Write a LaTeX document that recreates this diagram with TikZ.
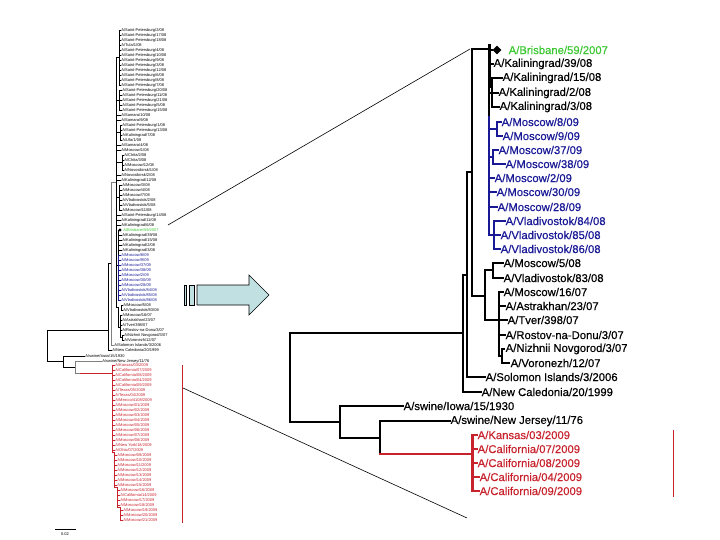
\documentclass[tikz,border=0pt]{standalone}
\usepackage{fontspec}
\setmainfont{Liberation Sans}
\newfontfamily\strainfont[FakeBold=0.4]{Liberation Sans}
\usetikzlibrary{shapes.geometric}

\definecolor{brisgreen}{RGB}{60,200,50}
\definecolor{mosblue}{RGB}{25,25,150}
\definecolor{swred}{RGB}{200,35,45}
\definecolor{arrowfill}{RGB}{192,224,226}

\tikzset{
  strain/.style={anchor=west, inner sep=0.5pt, font=\strainfont\fontsize{11.3}{11.3}\selectfont},
  minis/.style={anchor=west, inner sep=0.2pt, font=\fontsize{4}{4}\selectfont},
  branch/.style={line width=1.6pt, line cap=rect},
  minib/.style={line width=0.5pt},
}

\begin{document}
\begin{tikzpicture}[x=1pt,y=-1pt]
\useasboundingbox (0,0) rectangle (720,540);

%% big tree, right
\node[diamond, fill=black, inner sep=0pt, minimum size=9pt] (bdia) at (497,50) {};
\node[strain, brisgreen] (bris) at (508,50) {A/Brisbane/59/2007};
\node[strain] (k39) at (493,64) {A/Kaliningrad/39/08};
\node[strain] (k15) at (502,78) {A/Kaliningrad/15/08};
\node[strain] (k2) at (498,93) {A/Kaliningrad/2/08};
\node[strain] (k3) at (499,107) {A/Kaliningrad/3/08};
\node[strain, mosblue] (m8) at (501,122) {A/Moscow/8/09};
\node[strain, mosblue] (m9) at (502,136) {A/Moscow/9/09};
\node[strain, mosblue] (m37) at (498,150) {A/Moscow/37/09};
\node[strain, mosblue] (m38) at (505,164) {A/Moscow/38/09};
\node[strain, mosblue] (m2) at (494,178) {A/Moscow/2/09};
\node[strain, mosblue] (m30) at (496,192) {A/Moscow/30/09};
\node[strain, mosblue] (m28) at (497,207) {A/Moscow/28/09};
\node[strain, mosblue] (v84) at (505,221) {A/Vladivostok/84/08};
\node[strain, mosblue] (v85) at (500,235) {A/Vladivostok/85/08};
\node[strain, mosblue] (v86) at (500,249) {A/Vladivostok/86/08};
\node[strain] (m5) at (503,263) {A/Moscow/5/08};
\node[strain] (v83) at (503,278) {A/Vladivostok/83/08};
\node[strain] (m16) at (503,292) {A/Moscow/16/07};
\node[strain] (astr) at (505,306) {A/Astrakhan/23/07};
\node[strain] (tver) at (507,320) {A/Tver/398/07};
\node[strain] (rost) at (505,335) {A/Rostov-na-Donu/3/07};
\node[strain] (nizh) at (505,349) {A/Nizhnii Novgorod/3/07};
\node[strain] (voro) at (510,363) {A/Voronezh/12/07};
\node[strain] (solo) at (485,377) {A/Solomon Islands/3/2006};
\node[strain] (newc) at (481,392) {A/New Caledonia/20/1999};
\node[strain] (iowa) at (403,406) {A/swine/Iowa/15/1930};
\node[strain] (njer) at (450,421) {A/swine/New Jersey/11/76};
\node[strain, swred] (kans) at (477,435) {A/Kansas/03/2009};
\node[strain, swred] (cal7) at (477,449) {A/California/07/2009};
\node[strain, swred] (cal8) at (477,463) {A/California/08/2009};
\node[strain, swred] (cal4) at (479,477) {A/California/04/2009};
\node[strain, swred] (cal9) at (479,491) {A/California/09/2009};

\coordinate (nRoot) at (290,378);
\coordinate (nSea) at (463,333);
\coordinate (nSw) at (340,422);
\coordinate (nA) at (467,275);
\coordinate (nB) at (472,172);
\coordinate (nBris) at (489,49);
\coordinate (nC) at (485,296);
\coordinate (nD) at (493,270);
\coordinate (nE) at (499,320);
\coordinate (nF) at (502,356);
\coordinate (nNJ) at (380,438);
\coordinate (nCal) at (472,454);

\draw[branch] (nSea) -| (nRoot) |- (nSw);
\draw[branch] (nA) -| (nSea) |- (newc.west);
\draw[branch] (nB) -| (nA) |- (solo.west);
\draw[branch] (nBris) -| (nB) |- (nC);
\draw[branch] (nD) -| (nC) |- (nE);
\draw[branch] (m5.west) -| (nD) |- (v83.west);
\draw[branch] (nE |- m16.west) -- (nE |- nF) -- (nF);
\foreach \n in {m16,astr,tver,rost}
  \draw[branch] (nE |- \n.west) -- (\n.west);
\draw[line width=2.4pt] (nizh.west) -| (nF) |- (voro.west);

% Brisbane clade
\coordinate (bTop) at (489,44);
\coordinate (bKnee) at (489,88);
\coordinate (bLow) at (489,116);
\coordinate (nK) at (492,93);
\coordinate (nBl) at (489,180);
\coordinate (nM89) at (497,129);
\coordinate (nM37) at (493,157);
\coordinate (nV) at (494,235);
\draw[line width=3pt] (bTop) -- (bKnee);
\draw[branch] (bKnee) -- (bLow);
\draw[branch] (nBris |- bdia) -- (bdia);
\draw[branch] (nBris |- k39.west) -- (k39.west);
\draw[branch] (nBris |- nK) -- (nK);
\draw[branch] (k15.west) -| (nK) |- (k3.west);
\draw[branch] (nK |- k2.west) -- (k2.west);
\draw[line width=2.4pt, mosblue] (bLow) -- (nBl |- nV);
\draw[branch, mosblue] (nBl |- nM89) -- (nM89);
\draw[branch, mosblue] (m8.west) -| (nM89) |- (m9.west);
\draw[branch, mosblue] (nBl |- nM37) -- (nM37);
\draw[branch, mosblue] (m37.west) -| (nM37) |- (m38.west);
\foreach \n in {m2,m30,m28}
  \draw[branch, mosblue] (nBl |- \n.west) -- (\n.west);
\draw[branch, mosblue] (nBl |- nV) -- (nV);
\draw[line width=2.6pt, mosblue] (nV |- v84.west) -- (nV |- v86.west);
\foreach \n in {v84,v85,v86}
  \draw[branch, mosblue] (nV |- \n.west) -- (\n.west);

% swine part
\draw[branch] (iowa.west) -| (nSw) |- (nNJ);
\draw[branch] (njer.west) -| (nNJ) -- (nNJ |- nCal);
\draw[branch, swred] (nNJ |- nCal) -- (nCal);
\draw[line width=3pt, swred] (nCal |- kans.west) -- (nCal |- cal9.west);
\foreach \n in {kans,cal7,cal8,cal4,cal9}
  \draw[branch, swred] (nCal |- \n.west) -- (\n.west);
\coordinate (redTop) at (673,430);
\coordinate (redBot) at (673,497);
\draw[swred, line width=1pt] (redTop) -- (redBot);

%% small tree, left
\foreach \lname [count=\k] in {A/Saint-Petersburg/2/08, A/Saint-Petersburg/17/08,
  A/Saint-Petersburg/18/08, A/Tula/1/08, A/Saint-Petersburg/4/08,
  A/Saint-Petersburg/10/08, A/Saint-Petersburg/9/08, A/Saint-Petersburg/3/08,
  A/Saint-Petersburg/12/08, A/Saint-Petersburg/6/08, A/Saint-Petersburg/8/08,
  A/Saint-Petersburg/7/08}{
  \node[minis] (la\k) at (121,25+5*\k) {\lname};
  \draw[minib] (119,25+5*\k) -- (la\k.west);
}
\foreach \lname [count=\k] in {A/Saint-Petersburg/20/08, A/Saint-Petersburg/11/08,
  A/Saint-Petersburg/21/08, A/Saint-Petersburg/5/08, A/Saint-Petersburg/15/08}{
  \node[minis] (lb\k) at (122,85+5*\k) {\lname};
  \draw[minib] (119,85+5*\k) -- (lb\k.west);
}
\foreach \lname [count=\k] in {A/Samara/10/08, A/Samara/9/08}{
  \node[minis] (lc\k) at (121,110+5*\k) {\lname};
  \draw[minib] (116,110+5*\k) -- (lc\k.west);
}
\foreach \lname [count=\k] in {A/Saint-Petersburg/1/08, A/Saint-Petersburg/13/08,
  A/Kaliningrad/7/08, A/Ufa/1/08}{
  \node[minis] (ld\k) at (122,120+5*\k) {\lname};
  \draw[minib] (120,120+5*\k) -- (ld\k.west);
}
\foreach \lname [count=\k] in {A/Samara/4/08, A/Moscow/1/08}{
  \node[minis] (le\k) at (121,140+5*\k) {\lname};
  \draw[minib] (116,140+5*\k) -- (le\k.west);
}
\foreach \lname [count=\k] in {A/Chita/2/08, A/Chita/3/08, A/Moscow/12/08,
  A/Novosibirsk/1/08}{
  \node[minis] (lf\k) at (124,150+5*\k) {\lname};
  \draw[minib] (122,150+5*\k) -- (lf\k.west);
}
\foreach \lname [count=\k] in {A/Novosibirsk/2/08, A/Kaliningrad/12/08}{
  \node[minis] (lg\k) at (121,170+5*\k) {\lname};
  \draw[minib] (116,170+5*\k) -- (lg\k.west);
}
\foreach \lname [count=\k] in {A/Moscow/3/08, A/Moscow/4/08, A/Moscow/7/08,
  A/Vladivostok/2/08, A/Vladivostok/5/08, A/Moscow/11/08}{
  \node[minis] (lh\k) at (122,180+5*\k) {\lname};
  \draw[minib] (119,180+5*\k) -- (lh\k.west);
}
\foreach \lname [count=\k] in {A/Saint-Petersburg/14/08, A/Kaliningrad/11/08,
  A/Kaliningrad/6/08}{
  \node[minis] (li\k) at (121,210+5*\k) {\lname};
  \draw[minib] (116,210+5*\k) -- (li\k.west);
}
\draw[minib] (119,30) -- (119,85);
\draw[minib] (116,57) -- (119,57);
\draw[minib] (119,90) -- (119,110);
\draw[minib] (116,100) -- (119,100);
\draw[minib] (120,125) -- (120,140);
\draw[minib] (116,132) -- (120,132);
\draw[minib] (122,155) -- (122,170);
\draw[minib] (116,162) -- (122,162);
\draw[minib] (119,185) -- (119,210);
\draw[minib] (116,197) -- (119,197);
\draw[minib] (116,57) -- (116,307);

% Brisbane clade, small
\node[diamond, fill=black, inner sep=0pt, minimum size=3.5pt] (ldia) at (120,230) {};
\node[minis, brisgreen] (lbris) at (123,230) {A/Brisbane/59/2007};
\draw[minib] (118,230) -- (ldia);
\foreach \lname [count=\k] in {A/Kaliningrad/39/08, A/Kaliningrad/15/08,
  A/Kaliningrad/2/08, A/Kaliningrad/3/08}{
  \node[minis] (lk\k) at (122,230+5*\k) {\lname};
  \draw[minib] (118,230+5*\k) -- (lk\k.west);
}
\foreach \lname [count=\k] in {A/Moscow/8/09, A/Moscow/9/09, A/Moscow/37/09,
  A/Moscow/38/09, A/Moscow/2/09, A/Moscow/30/09, A/Moscow/28/09,
  A/Vladivostok/84/08, A/Vladivostok/85/08, A/Vladivostok/86/08}{
  \node[minis, mosblue] (lm\k) at (121,250+5*\k) {\lname};
  \draw[minib, mosblue] (118,250+5*\k) -- (lm\k.west);
}
\draw[minib] (118,230) -- (118,255);
\draw[minib, mosblue, line width=0.9pt] (118,255) -- (118,300);
\draw[minib] (116,265) -- (118,265);

% 2007 strains, small
\node[minis] (ln1) at (123,305) {A/Moscow/5/08};
\node[minis] (ln2) at (123,310) {A/Vladivostok/83/08};
\node[minis] (ln3) at (122,315) {A/Moscow/16/07};
\node[minis] (ln4) at (122,320) {A/Astrakhan/23/07};
\node[minis] (ln5) at (122,325) {A/Tver/398/07};
\node[minis] (ln6) at (122,330) {A/Rostov-na-Donu/3/07};
\node[minis] (ln7) at (124,335) {A/Nizhnii Novgorod/3/07};
\node[minis] (ln8) at (124,340) {A/Voronezh/12/07};
\node[minis] (lsol) at (114,345) {A/Solomon Islands/3/2006};
\node[minis] (lnew) at (112,350) {A/New Caledonia/20/1999};
\node[minis] (liow) at (85,356) {A/swine/Iowa/15/1930};
\node[minis] (lnj) at (102,361) {A/swine/New Jersey/11/76};
\draw[minib] (116,307) -- (118,307);
\draw[minib] (118,307) -- (118,327);
\draw[minib] (ln1.west) -| (121,310) -- (ln2.west);
\draw[minib] (118,327) -- (120,327);
\draw[minib] (120,315) -- (120,337);
\foreach \n in {ln3,ln4,ln5,ln6}
  \draw[minib] (120,0 |- \n.west) -- (\n.west);
\draw[minib] (ln7.west) -| (122,340) -- (ln8.west);
\draw[minib] (120,337) -- (122,337);
\draw[minib, gray] (116,182) -- (111,182) -- (111,345) -- (lsol.west);
\draw[minib] (111,263) -- (108,263) -- (108,350) -- (lnew.west);
\draw[minib] (108,330) -- (47,330) -- (47,361) -- (63,361);
\draw[minib] (liow.west) -| (63,367) -- (75,367);
\draw[minib, gray] (lnj.west) -| (75,373) -- (80,373);
\draw[minib, swred] (80,373) -- (112,373);

% swine origin 2009, small
\foreach \lname [count=\k] in {A/Kansas/03/2009, A/California/07/2009,
  A/California/08/2009, A/California/04/2009, A/California/09/2009,
  A/Texas/05/2009, A/Texas/04/2009, A/Mexico/4108/2009, A/Moscow/01/2009,
  A/Moscow/02/2009, A/Moscow/03/2009, A/Moscow/04/2009, A/Moscow/05/2009,
  A/Moscow/06/2009, A/Moscow/07/2009, A/Moscow/08/2009, A/New York/18/2009,
  A/Ohio/07/2009}{
  \node[minis, swred] (lr\k) at (115,360+5*\k) {\lname};
  \draw[minib, swred] (112,360+5*\k) -- (lr\k.west);
}
\foreach \lname [count=\k] in {A/Moscow/09/2009, A/Moscow/10/2009,
  A/Moscow/11/2009, A/Moscow/12/2009, A/Moscow/13/2009, A/Moscow/14/2009,
  A/Moscow/15/2009}{
  \node[minis, swred] (ls\k) at (117,450+5*\k) {\lname};
  \draw[minib, swred] (114,450+5*\k) -- (ls\k.west);
}
\foreach \lname [count=\k] in {A/Moscow/16/2009, A/California/14/2009,
  A/Moscow/17/2009, A/Moscow/18/2009}{
  \node[minis, swred] (lt\k) at (120,485+5*\k) {\lname};
  \draw[minib, swred] (117,485+5*\k) -- (lt\k.west);
}
\foreach \lname [count=\k] in {A/Moscow/19/2009, A/Moscow/20/2009,
  A/Moscow/21/2009}{
  \node[minis, swred] (lu\k) at (123,505+5*\k) {\lname};
  \draw[minib, swred] (120,505+5*\k) -- (lu\k.west);
}
\draw[swred, line width=0.9pt] (112,365) -- (112,452) -- (114,452) -- (114,487)
  -- (117,487) -- (117,507) -- (120,507) -- (120,520);
\draw[swred, line width=0.5pt] (182,365) -- (182,523);

% scale bar
\draw[minib] (55,529) -- (76,529);
\node[font=\fontsize{4}{4}\selectfont, inner sep=0pt] (scale) at (65,534) {0.02};

%% zoom lines and arrow
\coordinate (zoomA) at (168,225);
\coordinate (zoomB) at (470,49);
\coordinate (zoomC) at (183,388);
\coordinate (zoomD) at (467,518);
\draw[line width=0.6pt] (zoomA) -- (zoomB);
\draw[line width=0.6pt] (zoomC) -- (zoomD);
\draw[fill=arrowfill, line width=0.6pt] (197,285) -- (249,285) -- (249,275) -- (269,295)
  -- (249,315) -- (249,305) -- (197,305) -- cycle;
\draw[fill=arrowfill, line width=0.6pt] (184,285) rectangle (186.5,305);
\draw[fill=arrowfill, line width=0.6pt] (189,285) rectangle (194,305);
\end{tikzpicture}
\end{document}
